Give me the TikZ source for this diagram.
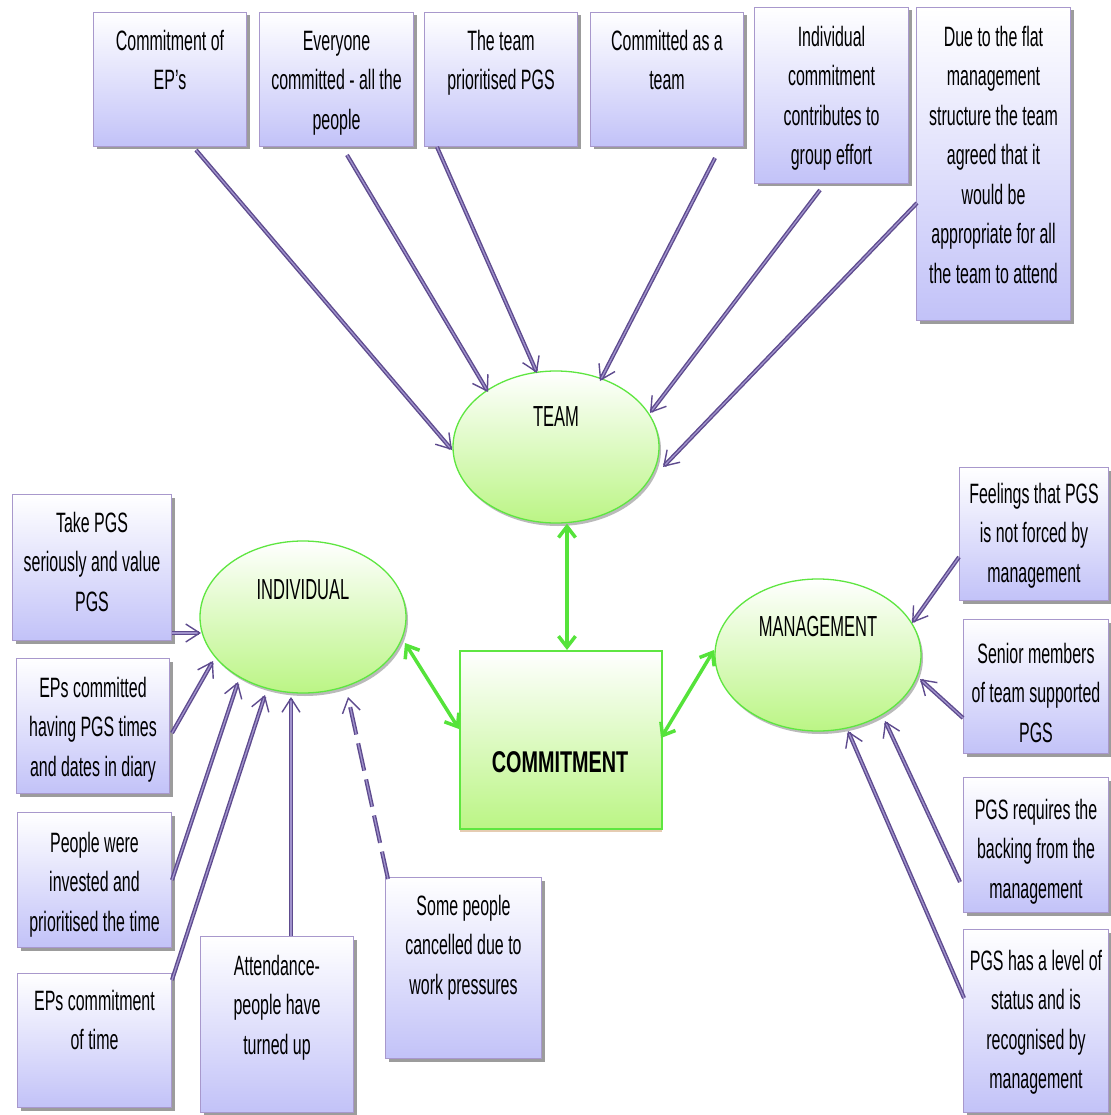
\documentclass[tikz,border=0pt]{standalone}
\usepackage{fontspec}
\setmainfont{Liberation Sans}
\newfontfamily\narrowfont[FakeStretch=0.57]{Liberation Sans}
\newfontfamily\headfont[FakeStretch=0.66]{Liberation Sans}
\usetikzlibrary{shapes.geometric,arrows.meta,shadows,calc}

\definecolor{lav}{HTML}{C2C2F8}
\definecolor{lavline}{HTML}{A898CC}
\definecolor{arrowpurple}{HTML}{5E4B8E}
\definecolor{arrowlight}{HTML}{A092CC}
\definecolor{leaf}{HTML}{BBF585}
\definecolor{leafline}{HTML}{5EE640}
\definecolor{arrowgreen}{HTML}{55E33A}
\definecolor{shadowgray}{HTML}{9C9C9C}

\tikzset{
  notebox/.style={rectangle, draw=lavline, line width=1pt, top color=white,
    bottom color=lav, inner sep=0pt,
    drop shadow={shadow xshift=3pt, shadow yshift=-3pt, fill=shadowgray, opacity=1}},
  notetext/.style={inner sep=0pt, anchor=north,
    font=\narrowfont\fontsize{28}{39.5}\selectfont},
  hub/.style={ellipse, draw=leafline, line width=1.3pt, top color=white,
    bottom color=leaf, minimum width=206pt, minimum height=152pt,
    drop shadow={shadow xshift=2pt, shadow yshift=-3pt, fill=shadowgray!70, opacity=1}},
  hubtext/.style={inner sep=0pt, font=\narrowfont\fontsize{29}{34}\selectfont},
  core/.style={rectangle, draw=leafline, line width=1.5pt, top color=white,
    bottom color=leaf, minimum width=202pt, minimum height=178pt, inner sep=0pt,
    drop shadow={shadow xshift=0pt, shadow yshift=-3pt, fill=brown!40, opacity=1}},
  feed/.style={draw=arrowpurple, double=arrowlight, double distance=1.3pt,
    line width=1.4pt, -{Straight Barb[length=14pt,width=18pt]}},
  feeddash/.style={feed, dash pattern=on 28pt off 9pt},
  link/.style={draw=arrowgreen, line width=3.5pt,
    {Straight Barb[length=11pt,width=17pt]}-{Straight Barb[length=11pt,width=17pt]}}
}

% #1 name, #2 left, #3 top, #4 width, #5 height, #6 first-line offset, #7 text
\newcommand\notecard[7]{%
  \node[notebox, minimum width=#4pt, minimum height=#5pt, anchor=north west] (#1) at (#2,#3) {};
  \node[notetext] (#1-t) at ([yshift={17.65pt-#6pt}]#1.north)
    {\parbox[t]{#4pt}{\centering\strut #7}};
}

\begin{document}
\begin{tikzpicture}[x=1pt,y=-1pt]
\useasboundingbox[fill=white] (0,0) rectangle (1110,1115);

% ---- top row, feeding TEAM
\notecard{t1}{93}{12}{153}{134}{28}{Commitment of\\EP’s}
\notecard{t2}{259}{12}{154}{134}{28}{Everyone\\committed - all the\\people}
\notecard{t3}{424}{12}{153}{134}{28}{The team\\prioritised PGS}
\notecard{t4}{590}{12}{153}{134}{28}{Committed as a\\team}
\notecard{t5}{754}{7}{154}{176}{29}{Individual\\commitment\\contributes to\\group effort}
\notecard{t6}{916}{7}{154}{313}{29}{Due to the flat\\management\\structure the team\\agreed that it\\would be\\appropriate for all\\the team to attend}

% ---- left column, feeding INDIVIDUAL
\notecard{l1}{12}{494}{159}{146}{28}{Take PGS\\seriously and value\\PGS}
\notecard{l2}{16}{658}{153}{135}{29}{EPs committed\\having PGS times\\and dates in diary}
\notecard{l3}{17}{812}{154}{135}{30}{People were\\invested and\\prioritised the time}
\notecard{l4}{17}{973}{154}{134}{27}{EPs commitment\\of time}
\notecard{l5}{200}{936}{153}{176}{29}{Attendance-\\people have\\turned up}
\notecard{l6}{385}{877}{156}{181}{28}{Some people\\cancelled due to\\work pressures}

% ---- right column, feeding MANAGEMENT
\notecard{r1}{959}{467}{149}{133}{26}{Feelings that PGS\\is not forced by\\management}
\notecard{r2}{963}{619}{145}{134}{34}{Senior members\\of team supported\\PGS}
\notecard{r3}{963}{777}{145}{135}{32}{PGS requires the\\backing from the\\management}
\notecard{r4}{963}{929}{145}{183}{31}{PGS has a level of\\status and is\\recognised by\\management}

% ---- hubs
\node[hub] (team) at (556,447) {};
\node[hubtext] (team-t) at (556,417) {TEAM};
\node[hub] (indiv) at (303,617) {};
\node[hubtext] (indiv-t) at (303,590) {INDIVIDUAL};
\node[hub] (mgmt) at (818,655) {};
\node[hubtext] (mgmt-t) at (818,627) {MANAGEMENT};

\node[core, anchor=north west] (commit) at (459,650) {};
\node[inner sep=0pt, font=\headfont\bfseries\fontsize{30}{34}\selectfont] (commit-t) at (560,762) {COMMITMENT};

% ---- links between hubs and the core
\draw[link] (team.south -| 567,0) -- (commit.north -| 567,0);
\draw[link] (405,643) -- (459,729);
\draw[link] (661,738) -- (714,650);

% ---- feeders into TEAM
\coordinate (t1s) at (196,150);
\coordinate (t2s) at (347,155);
\coordinate (t3s) at (437,147);
\coordinate (t4s) at (715,158);
\coordinate (t5s) at (820,190);
\coordinate (t6s) at (917,203);
\draw[feed] (t1s) -- (452,450);
\draw[feed] (t2s) -- (488,392);
\draw[feed] (t3s) -- (537,373);
\draw[feed] (t4s) -- (600,381);
\draw[feed] (t5s) -- (650,413);
\draw[feed] (t6s) -- (663,467);

% ---- feeders into INDIVIDUAL
\draw[feed] (l1.east |- 0,633) -- (201,633);
\draw[feed] (172,733) -- (213,661);
\draw[feed] (172,880) -- (238,682);
\draw[feed] (172,980) -- (265,695);
\draw[feed] (l5.north -| 291,0) -- (291,697);
\draw[feeddash] (388,879) -- (348,697);

% ---- feeders into MANAGEMENT
\draw[feed] (959,557) -- (912,623);
\draw[feed] (963,718) -- (920,679);
\draw[feed] (960,882) -- (885,721);
\draw[feed] (964,998) -- (848,731);

\end{tikzpicture}
\end{document}
